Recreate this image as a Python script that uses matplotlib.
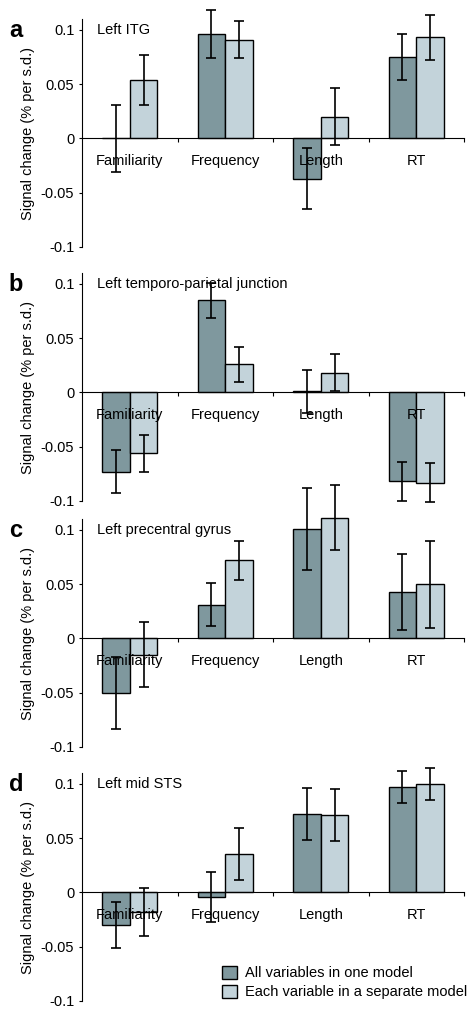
import numpy as np
import matplotlib
matplotlib.use("Agg")
import matplotlib.pyplot as plt
from matplotlib.patches import Patch

plt.rcParams['font.family'] = ['Liberation Sans', 'DejaVu Sans']

# data
categories = ['Familiarity', 'Frequency', 'Length', 'RT']
panel_letters = ['a', 'b', 'c', 'd']
regions = ['Left ITG', 'Left temporo-parietal junction',
           'Left precentral gyrus', 'Left mid STS']

one_model_a = [0.0, 0.096, -0.037, 0.075]
one_model_a_err = [0.031, 0.022, 0.028, 0.021]
separate_a = [0.054, 0.091, 0.020, 0.093]
separate_a_err = [0.023, 0.017, 0.026, 0.021]

one_model_b = [-0.073, 0.085, 0.001, -0.082]
one_model_b_err = [0.020, 0.016, 0.020, 0.018]
separate_b = [-0.056, 0.026, 0.018, -0.083]
separate_b_err = [0.017, 0.016, 0.017, 0.018]

one_model_c = [-0.050, 0.031, 0.101, 0.043]
one_model_c_err = [0.033, 0.020, 0.038, 0.035]
separate_c = [-0.015, 0.072, 0.111, 0.050]
separate_c_err = [0.030, 0.018, 0.030, 0.040]

one_model_d = [-0.030, -0.004, 0.072, 0.097]
one_model_d_err = [0.021, 0.023, 0.024, 0.015]
separate_d = [-0.018, 0.035, 0.071, 0.100]
separate_d_err = [0.022, 0.024, 0.024, 0.015]

series = [
    (one_model_a, one_model_a_err, separate_a, separate_a_err),
    (one_model_b, one_model_b_err, separate_b, separate_b_err),
    (one_model_c, one_model_c_err, separate_c, separate_c_err),
    (one_model_d, one_model_d_err, separate_d, separate_d_err),
]

dark = '#7f989e'
light = '#c3d3da'

W, H = 476, 1014
fig = plt.figure(figsize=(W / 100, H / 100), dpi=100)

# pixel bottoms (-0.1 line) of each panel
bottoms_px = [247, 501, 747, 1001]
ax_h_px = 228
left_px, right_px = 82, 464

x = np.arange(len(categories))
bw = 0.29
fs = 10.5

for i, (one, one_err, sep, sep_err) in enumerate(series):
    ax = fig.add_axes([left_px / W, 1 - bottoms_px[i] / H,
                       (right_px - left_px) / W, ax_h_px / H])
    ax.set_xlim(-0.5, 3.5)
    ax.set_ylim(-0.1, 0.11)
    ax.set_axisbelow(False)  # category labels drawn over the bars

    b1 = ax.bar(x - bw / 2, one, bw, color=dark, edgecolor='black', linewidth=1.0, zorder=2)
    b2 = ax.bar(x + bw / 2, sep, bw, color=light, edgecolor='black', linewidth=1.0, zorder=2)
    for p in list(b1) + list(b2):
        p.set_clip_on(False)

    for xs, vals, errs in [(x - bw / 2, one, one_err), (x + bw / 2, sep, sep_err)]:
        eb = ax.errorbar(xs, vals, yerr=errs, fmt='none', ecolor='black',
                         elinewidth=1.2, capsize=3.4, capthick=1.2, zorder=4)
        for child in eb.get_children():
            child.set_clip_on(False)

    ax.spines['top'].set_visible(False)
    ax.spines['right'].set_visible(False)
    ax.spines['bottom'].set_position(('data', 0))
    ax.spines['left'].set_linewidth(0.8)
    ax.spines['bottom'].set_linewidth(0.8)

    ax.set_yticks([-0.1, -0.05, 0, 0.05, 0.1])
    ax.set_yticklabels(['-0.1', '-0.05', '0', '0.05', '0.1'])
    ax.tick_params(axis='y', direction='out', length=2.5, width=0.8, labelsize=fs, pad=3)

    ax.set_xticks([0.5, 1.5, 2.5, 3.5])
    ax.set_xticklabels([])
    ax.set_xticks(x, minor=True)
    ax.set_xticklabels(categories, minor=True)
    ax.tick_params(axis='x', which='major', direction='out', length=3, width=0.8)
    ax.tick_params(axis='x', which='minor', length=0, labelsize=fs, pad=11)

    ax.set_ylabel('Signal change (% per s.d.)', fontsize=fs)
    ax.yaxis.set_label_coords(-0.123, 0.5)

    ax.text(-0.173, 0.95, panel_letters[i], transform=ax.transAxes,
            fontsize=17, fontweight='bold', ha='center', va='center')
    ax.text(0.039, 0.95, regions[i], transform=ax.transAxes,
            fontsize=fs, ha='left', va='center')

    if i == 3:
        handles = [Patch(facecolor=dark, edgecolor='black', linewidth=1.0),
                   Patch(facecolor=light, edgecolor='black', linewidth=1.0)]
        ax.legend(handles, ['All variables in one model', 'Each variable in a separate model'],
                  loc='upper left', bbox_to_anchor=(0.3665, 0.155), frameon=False,
                  fontsize=fs, handlelength=1.0, handleheight=1.0, handletextpad=0.6,
                  labelspacing=0.3, borderpad=0, borderaxespad=0)

fig.savefig('out.png', dpi=100)
